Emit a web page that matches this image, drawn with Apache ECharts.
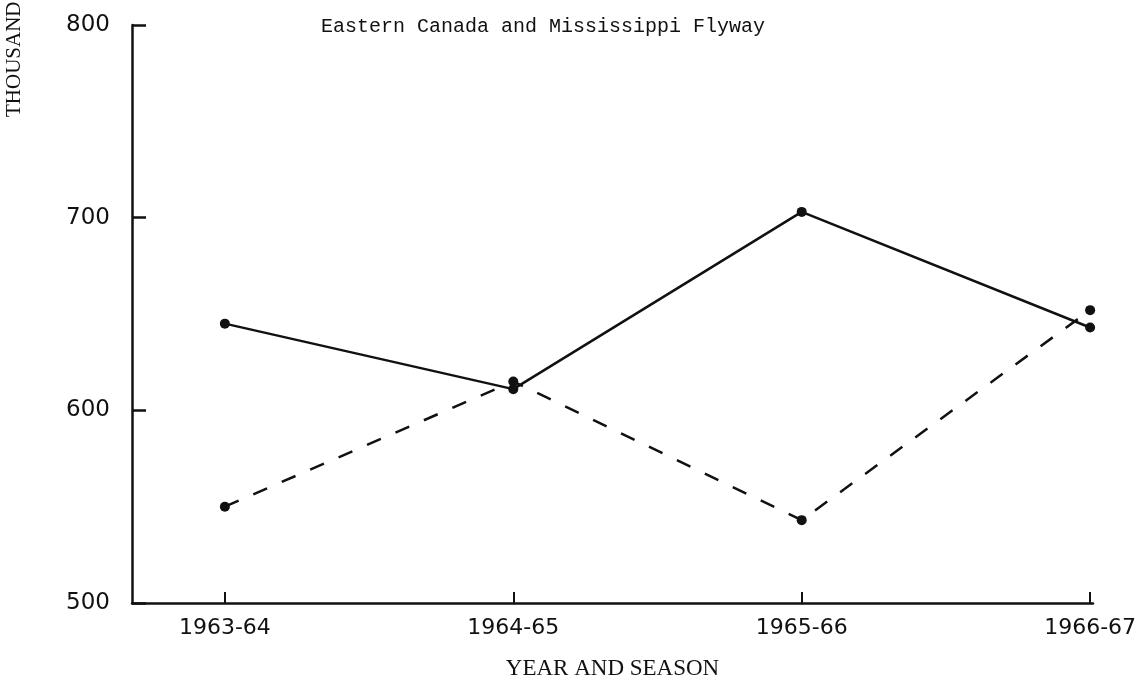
<!DOCTYPE html>
<html>
<head>
<meta charset="utf-8">
<script src="https://cdn.jsdelivr.net/npm/echarts@6/dist/echarts.min.js"></script>
<style>html,body{margin:0;padding:0;background:#fff;}#c{width:1137px;height:682px;}</style>
</head>
<body>
<div id="c"></div>
<script>
const categories = ['1963-64', '1964-65', '1965-66', '1966-67'];
const solidValues = [645, 611, 703, 643];
const dashedValues = [550, 615, 543, 652];
const yTicks = [500, 600, 700, 800];

const chart = echarts.init(document.getElementById('c'));
const toPairs = arr => arr.map((v, i) => [i, v]);
chart.setOption({
  backgroundColor: '#fff',
  animation: false,
  title: {
    text: 'Eastern Canada and Mississippi Flyway',
    left: 538, top: 12, textAlign: 'center',
    textStyle: { fontFamily: 'Liberation Mono', fontSize: 20, fontWeight: 'normal', color: '#111' }
  },
  grid: { left: 132, right: 44, top: 25, bottom: 79, outerBoundsMode: 'none', containLabel: false },
  xAxis: {
    type: 'value', min: -0.322, max: 3.01,
    splitLine: { show: false },
    axisLine: { show: true, onZero: false, lineStyle: { color: '#111', width: 2.5 } },
    axisTick: { show: true, inside: true, length: 11, customValues: [0, 1, 2, 3], lineStyle: { color: '#111', width: 2 } },
    axisLabel: {
      customValues: [0, 1, 2, 3], margin: 14,
      formatter: v => categories[Math.round(v)] || '',
      fontFamily: 'DejaVu Sans', fontSize: 22, color: '#111'
    },
    name: 'YEAR AND SEASON', nameLocation: 'middle', nameGap: 54,
    nameTextStyle: { fontFamily: 'Liberation Serif', fontSize: 23, color: '#111' }
  },
  yAxis: {
    type: 'value', min: 500, max: 800, interval: 100,
    splitLine: { show: false },
    axisLine: { show: true, onZero: false, lineStyle: { color: '#111', width: 2.5 } },
    axisTick: { show: true, inside: true, length: 14, lineStyle: { color: '#111', width: 2.5 } },
    axisLabel: { margin: 22, fontFamily: 'DejaVu Sans', fontSize: 23, color: '#111',
      formatter: v => yTicks.includes(v) ? String(v) : '' }
  },
  graphic: [{
    type: 'text', x: 25, y: 117, rotation: Math.PI / 2,
    style: { text: 'THOUSANDS', font: '21px "Liberation Serif"', fill: '#111',
      textAlign: 'left', textVerticalAlign: 'bottom' }
  }],
  series: [
    {
      type: 'line', data: toPairs(solidValues),
      symbol: 'circle', symbolSize: 10,
      lineStyle: { color: '#111', width: 2.5 },
      itemStyle: { color: '#111' }
    },
    {
      type: 'line', data: toPairs(dashedValues),
      symbol: 'circle', symbolSize: 10,
      lineStyle: { color: '#111', width: 2.5, type: [15, 16] },
      itemStyle: { color: '#111' }
    }
  ]
});
</script>
</body>
</html>
